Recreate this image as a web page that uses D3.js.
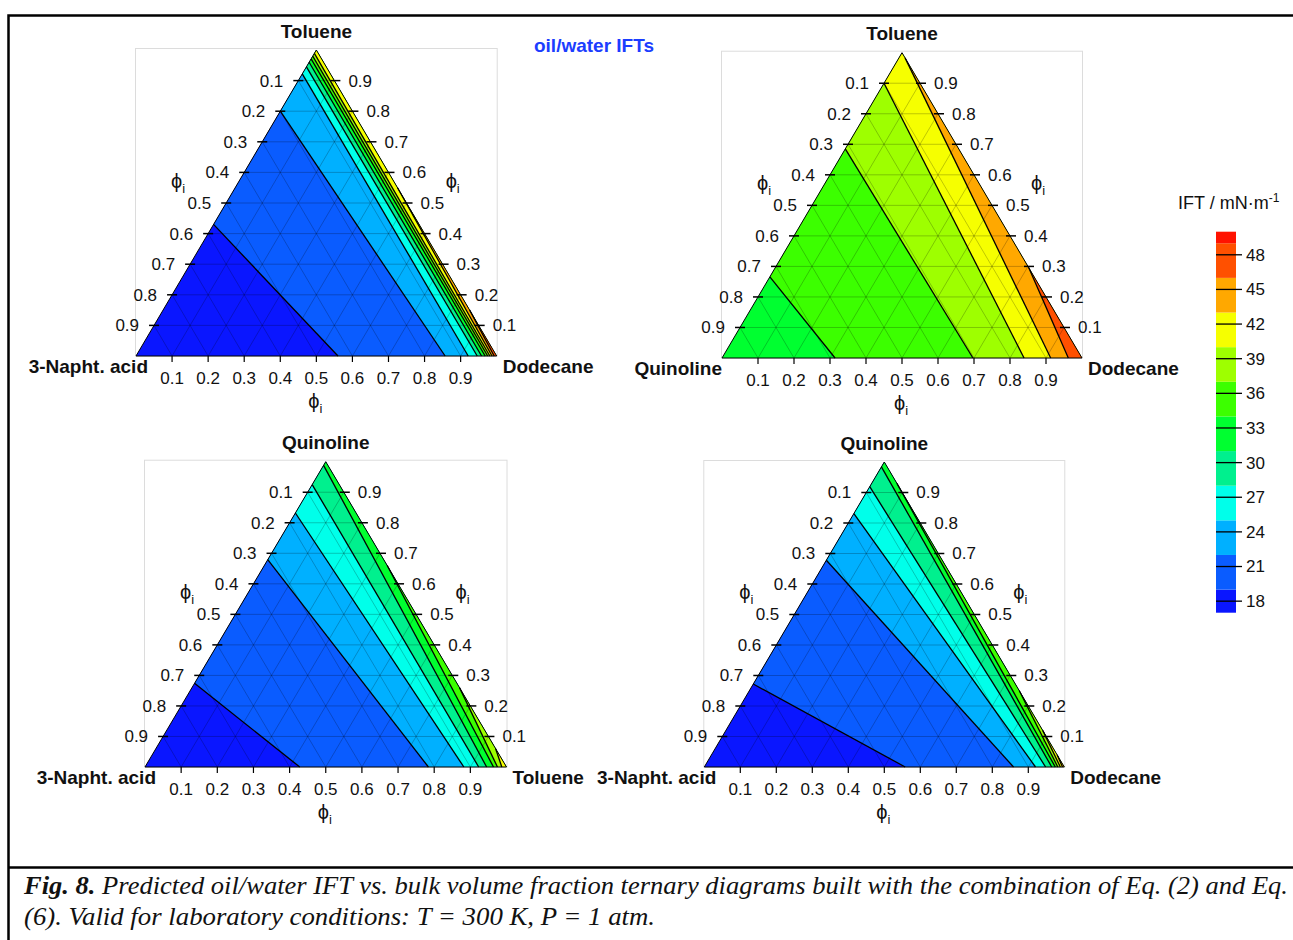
<!DOCTYPE html>
<html>
<head>
<meta charset="utf-8">
<script src="https://cdn.jsdelivr.net/npm/d3@7"></script>
<style>
body { margin:0; background:#fff; }
svg text { font-family: "Liberation Sans", Arial, Helvetica, sans-serif; fill:#111; }
.tick-label { font-size:17px; }
.corner { font-size:19px; font-weight:bold; }
.axis-title { font-size:20px; }
.caption { font-family:"Liberation Serif","Times New Roman",serif; font-style:italic; font-size:25px; }
</style>
</head>
<body>
<svg id="chart" width="1293" height="940"></svg>
<script>
// IFT contour levels (mN/m) and the colour of each band, lowest band first
var levels = [19, 22, 25, 28, 31, 34, 37, 40, 43, 46, 49];
var bandColors = ["#0a16ff", "#0a5cff", "#00b0ff", "#00ffea", "#00f08e", "#00ff30", "#3cff00", "#9eff00", "#f6ff00", "#ffa800", "#ff5000", "#ff1200"];
var barRange = [17, 50];
var barTicks = [18, 21, 24, 27, 30, 33, 36, 39, 42, 45, 48];
var gridVals = [0.1, 0.2, 0.3, 0.4, 0.5, 0.6, 0.7, 0.8, 0.9];

// corner names: bottom-left, bottom-right, apex
var names1 = ["3-Napht. acid", "Dodecane", "Toluene"];
var names2 = ["Quinoline", "Dodecane", "Toluene"];
var names3 = ["3-Napht. acid", "Toluene", "Quinoline"];
var names4 = ["3-Napht. acid", "Dodecane", "Quinoline"];

// contour lines: end points as volume fractions [bottom-left, bottom-right, apex]
var contours1 = [
  {level:19, from:[0.57, 0, 0.43],    to:[0.44, 0.56, 0]},
  {level:22, from:[0.20, 0, 0.80],    to:[0.143, 0.857, 0]},
  {level:25, from:[0.078, 0, 0.922],  to:[0.079, 0.921, 0]},
  {level:28, from:[0.055, 0, 0.945],  to:[0.054, 0.946, 0]},
  {level:31, from:[0.04, 0, 0.96],    to:[0.042, 0.958, 0]},
  {level:34, from:[0.029, 0, 0.971],  to:[0.032, 0.968, 0]},
  {level:37, from:[0.02, 0, 0.98],    to:[0.025, 0.975, 0]},
  {level:40, from:[0.011, 0, 0.989],  to:[0.019, 0.981, 0]},
  {level:43, from:[0, 0.45, 0.55],    to:[0.013, 0.987, 0]},
  {level:46, from:[0, 0.85, 0.15],    to:[0.007, 0.993, 0]}
];
var contours2 = [
  {level:34, from:[0.734, 0, 0.266],  to:[0.686, 0.314, 0]},
  {level:37, from:[0.315, 0, 0.685],  to:[0.303, 0.697, 0]},
  {level:40, from:[0.10, 0, 0.90],    to:[0.161, 0.839, 0]},
  {level:43, from:[0, 0.017, 0.983],  to:[0.087, 0.913, 0]},
  {level:46, from:[0, 0.703, 0.297],  to:[0.038, 0.962, 0]}
];
var contours3 = [
  {level:19, from:[0.726, 0, 0.274],  to:[0.572, 0.428, 0]},
  {level:22, from:[0.321, 0, 0.679],  to:[0.216, 0.784, 0]},
  {level:25, from:[0.168, 0, 0.832],  to:[0.118, 0.882, 0]},
  {level:28, from:[0.075, 0, 0.925],  to:[0.077, 0.923, 0]},
  {level:31, from:[0.012, 0, 0.988],  to:[0.055, 0.945, 0]},
  {level:34, from:[0, 0.34, 0.66],    to:[0.036, 0.964, 0]},
  {level:37, from:[0, 0.74, 0.26],    to:[0.025, 0.975, 0]},
  {level:40, from:[0, 0.94, 0.06],    to:[0.013, 0.987, 0]}
];
var contours4 = [
  {level:19, from:[0.728, 0, 0.272],  to:[0.442, 0.558, 0]},
  {level:22, from:[0.322, 0, 0.678],  to:[0.141, 0.859, 0]},
  {level:25, from:[0.169, 0, 0.831],  to:[0.08, 0.92, 0]},
  {level:28, from:[0.081, 0, 0.919],  to:[0.052, 0.948, 0]},
  {level:31, from:[0.016, 0, 0.984],  to:[0.035, 0.965, 0]},
  {level:34, from:[0, 0.07, 0.93],    to:[0.025, 0.975, 0]},
  {level:37, from:[0, 0.75, 0.25],    to:[0.018, 0.982, 0]},
  {level:40, from:[0, 0.88, 0.12],    to:[0.011, 0.989, 0]},
  {level:43, from:[0, 0.96, 0.04],    to:[0.005, 0.995, 0]}
];

var svg = d3.select("#chart");

// page frame
svg.append("path").attr("d", "M8.5,940V15.5H1293").attr("fill", "none").attr("stroke", "#000").attr("stroke-width", 2.5);
svg.append("line").attr("x1", 8).attr("x2", 1293).attr("y1", 867.5).attr("y2", 867.5).attr("stroke", "#000").attr("stroke-width", 2.5);

svg.append("text").attr("x", 594).attr("y", 45).attr("dy", "0.35em").attr("text-anchor", "middle")
  .style("font-size", "19px").style("font-weight", "bold").style("fill", "#1b3dff").text("oil/water IFTs");

var panels = [
  {names:names1, contours:contours1, left:136,   right:496.7,  top:50,    bottom:356, cornerDx:12},
  {names:names2, contours:contours2, left:722,   right:1082,   top:52.7,  bottom:358, cornerDx:0},
  {names:names3, contours:contours3, left:145,   right:506.5,  top:461.7, bottom:767, cornerDx:11},
  {names:names4, contours:contours4, left:704.3, right:1064.3, top:462,   bottom:767, cornerDx:12}
];

function bandIndex(level) { return levels.indexOf(level); }

// keep the part of poly on the same side of line p-q as ref
function clipHalf(poly, p, q, ref) {
  function side(pt) { return (q[0] - p[0]) * (pt[1] - p[1]) - (q[1] - p[1]) * (pt[0] - p[0]); }
  var sRef = side(ref) > 0 ? 1 : -1;
  var out = [];
  for (var i = 0; i < poly.length; i++) {
    var cur = poly[i], prev = poly[(i + poly.length - 1) % poly.length];
    var sc = side(cur) * sRef, sp = side(prev) * sRef;
    var cross = function() {
      var t = sp / (sp - sc);
      return [prev[0] + t * (cur[0] - prev[0]), prev[1] + t * (cur[1] - prev[1])];
    };
    if (sc >= 0) {
      if (sp < 0) out.push(cross());
      out.push(cur);
    } else if (sp >= 0) {
      out.push(cross());
    }
  }
  return out;
}

panels.forEach(function(p) {
  var x = d3.scaleLinear().domain([0, 1]).range([p.left, p.right]);
  var y = d3.scaleLinear().domain([0, 1]).range([p.bottom, p.top]);
  function proj(c) { return [x(c[1] + c[2] / 2), y(c[2])]; }
  var A = proj([1, 0, 0]), B = proj([0, 1, 0]), C = proj([0, 0, 1]);
  var tri = [A, B, C];
  var g = svg.append("g");
  var line = d3.line();

  // light frame
  g.append("rect").attr("x", p.left - 0.5).attr("y", p.top - 1.5)
    .attr("width", p.right - p.left + 1).attr("height", p.bottom - p.top + 1.5)
    .attr("fill", "none").attr("stroke", "#dcdcdc").attr("stroke-width", 1);

  // filled bands
  var base = bandIndex(p.contours[0].level);
  g.append("path").attr("d", line(tri) + "Z").attr("fill", bandColors[base]);
  p.contours.forEach(function(c) {
    var poly = clipHalf(tri, proj(c.from), proj(c.to), B);
    if (poly.length > 2)
      g.append("path").attr("d", line(poly) + "Z").attr("fill", bandColors[bandIndex(c.level) + 1]);
  });

  // grid
  var grid = [];
  gridVals.forEach(function(v) {
    grid.push([proj([1 - v, 0, v]), proj([0, 1 - v, v])]);
    grid.push([proj([1 - v, v, 0]), proj([0, v, 1 - v])]);
    grid.push([proj([v, 1 - v, 0]), proj([v, 0, 1 - v])]);
  });
  g.selectAll(".grid").data(grid).enter().append("path")
    .attr("d", function(d) { return line(d); })
    .attr("stroke", "rgba(0,0,0,0.32)").attr("stroke-width", 0.7).attr("fill", "none");

  // contour lines
  g.selectAll(".cline").data(p.contours).enter().append("path")
    .attr("d", function(d) { return line([proj(d.from), proj(d.to)]); })
    .attr("stroke", "#000").attr("stroke-width", 1.3).attr("fill", "none");

  g.append("path").attr("d", line(tri) + "Z").attr("fill", "none").attr("stroke", "#000").attr("stroke-width", 1);

  // ticks and labels
  gridVals.forEach(function(v) {
    var L = proj([1 - v, 0, v]), R = proj([0, 1 - v, v]), Bt = proj([1 - v, v, 0]);
    g.append("line").attr("x1", L[0] - 5).attr("x2", L[0] + 5).attr("y1", L[1]).attr("y2", L[1]).attr("stroke", "#000").attr("stroke-width", 1.5);
    g.append("line").attr("x1", R[0] - 4).attr("x2", R[0] + 6).attr("y1", R[1]).attr("y2", R[1]).attr("stroke", "#000").attr("stroke-width", 1.5);
    g.append("line").attr("x1", Bt[0]).attr("x2", Bt[0]).attr("y1", Bt[1]).attr("y2", Bt[1] + 6).attr("stroke", "#000").attr("stroke-width", 1.2);
    g.append("text").attr("class", "tick-label").attr("x", L[0] - 15).attr("y", L[1]).attr("dy", "0.35em")
      .attr("text-anchor", "end").text(d3.format(".1f")(1 - v));
    g.append("text").attr("class", "tick-label").attr("x", R[0] + 14).attr("y", R[1]).attr("dy", "0.35em")
      .text(d3.format(".1f")(v));
    g.append("text").attr("class", "tick-label").attr("x", Bt[0]).attr("y", Bt[1] + 22).attr("dy", "0.35em")
      .attr("text-anchor", "middle").text(d3.format(".1f")(v));
  });

  // axis titles
  function phi(tx, ty) {
    var t = g.append("text").attr("class", "axis-title").attr("x", tx).attr("y", ty).attr("dy", "0.3em").attr("text-anchor", "middle");
    t.append("tspan").text("ϕ");
    t.append("tspan").attr("dy", "5").style("font-size", "13px").text("i");
  }
  phi(p.left + 42, p.bottom - 174);
  phi(p.right - 44, p.bottom - 174);
  phi((p.left + p.right) / 2 - 1, p.bottom + 46);

  // corner names
  g.append("text").attr("class", "corner").attr("x", C[0]).attr("y", C[1] - 19).attr("dy", "0.35em")
    .attr("text-anchor", "middle").text(p.names[2]);
  g.append("text").attr("class", "corner").attr("x", A[0] + p.cornerDx).attr("y", A[1] + 10).attr("dy", "0.35em")
    .attr("text-anchor", "end").text(p.names[0]);
  g.append("text").attr("class", "corner").attr("x", B[0] + 6).attr("y", B[1] + 10).attr("dy", "0.35em")
    .text(p.names[1]);
});

// colour bar
var bar = d3.scaleLinear().domain(barRange).range([612.7, 231.7]);
var edges = [barRange[0]].concat(levels, [barRange[1]]);
var cb = svg.append("g");
cb.selectAll("rect").data(bandColors).enter().append("rect")
  .attr("x", 1216).attr("width", 20)
  .attr("y", function(d, i) { return bar(edges[i + 1]); })
  .attr("height", function(d, i) { return bar(edges[i]) - bar(edges[i + 1]); })
  .attr("fill", function(d) { return d; });
cb.selectAll(".bt").data(barTicks).enter().append("line")
  .attr("x1", 1216).attr("x2", 1242)
  .attr("y1", function(d) { return bar(d); }).attr("y2", function(d) { return bar(d); })
  .attr("stroke", "#000").attr("stroke-width", 1.3);
cb.selectAll(".bl").data(barTicks).enter().append("text")
  .attr("x", 1246).attr("y", function(d) { return bar(d); }).attr("dy", "0.35em")
  .style("font-size", "17px").text(function(d) { return d; });
var ct = cb.append("text").attr("x", 1178).attr("y", 203).attr("dy", "0.35em").style("font-size", "18px");
ct.append("tspan").text("IFT / mN·m");
ct.append("tspan").attr("dy", "-7").style("font-size", "12px").text("-1");

// caption
var cap1 = svg.append("text").attr("class", "caption").attr("x", 24).attr("y", 894)
  .attr("textLength", 1264).attr("lengthAdjust", "spacingAndGlyphs");
cap1.append("tspan").style("font-weight", "bold").text("Fig. 8.");
cap1.append("tspan").text(" Predicted oil/water IFT vs. bulk volume fraction ternary diagrams built with the combination of Eq. (2) and Eq.");
svg.append("text").attr("class", "caption").attr("x", 24).attr("y", 925)
  .attr("textLength", 631).attr("lengthAdjust", "spacingAndGlyphs")
  .text("(6). Valid for laboratory conditions: T = 300 K, P = 1 atm.");
</script>
</body>
</html>
